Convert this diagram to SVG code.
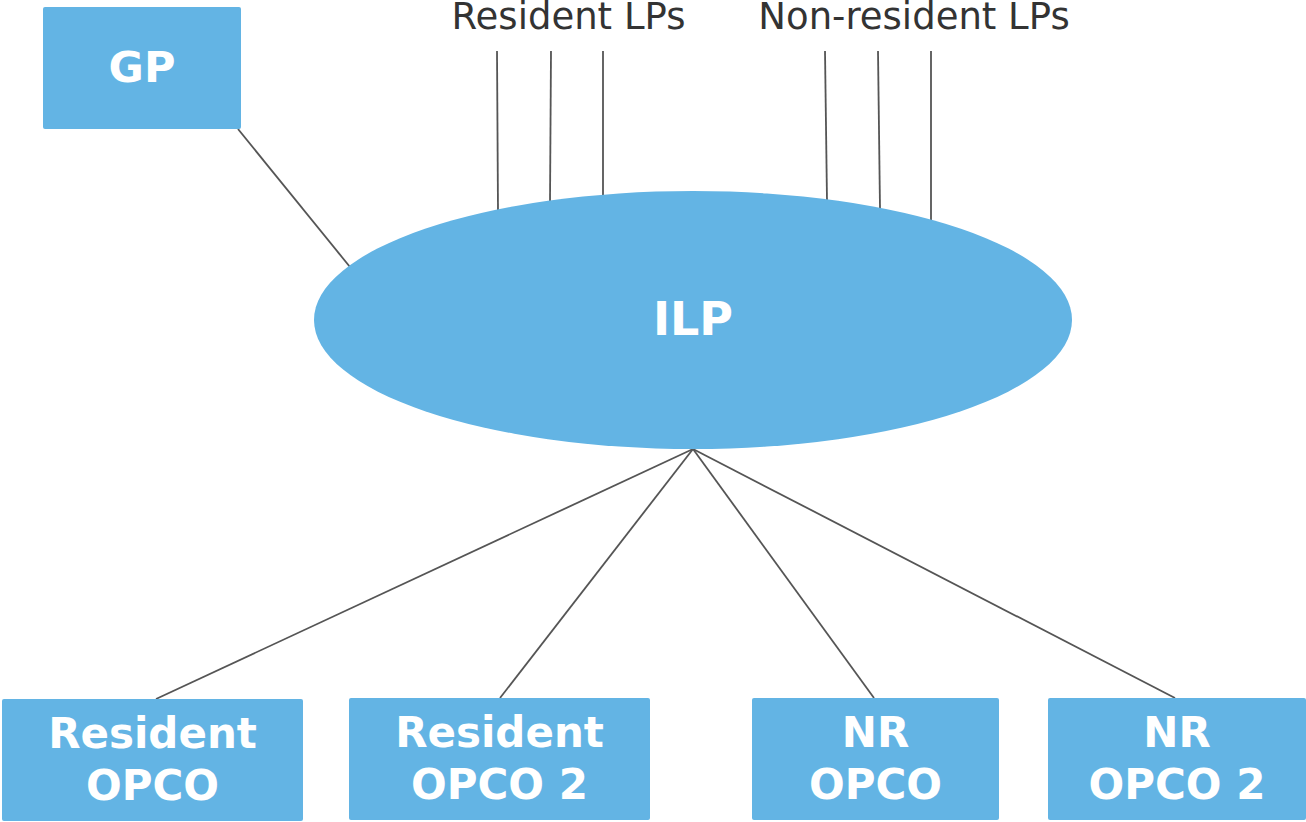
<svg xmlns="http://www.w3.org/2000/svg" width="1306" height="822" viewBox="0 0 1306 822">
<style>
.node{fill:#63b4e4;}
.lbl{font-family:"DejaVu Sans",Verdana,sans-serif;font-weight:bold;font-size:42px;fill:#ffffff;text-anchor:middle;}
.top{font-family:"DejaVu Sans",Verdana,sans-serif;font-size:37px;fill:#333333;text-anchor:middle;}
.conn{stroke:#555555;stroke-width:1.8;fill:none;}
</style>
<rect width="1306" height="822" fill="#ffffff"/>
<g id="connectors">
<line class="conn" x1="238" y1="129" x2="350" y2="267"/>
<line class="conn" x1="497" y1="51" x2="498" y2="212"/>
<line class="conn" x1="551" y1="51" x2="550" y2="202"/>
<line class="conn" x1="603" y1="51" x2="603" y2="197"/>
<line class="conn" x1="825" y1="51" x2="827" y2="201"/>
<line class="conn" x1="878" y1="51" x2="880" y2="209"/>
<line class="conn" x1="931" y1="51" x2="931" y2="221"/>
<line class="conn" x1="693" y1="449" x2="156" y2="699"/>
<line class="conn" x1="693" y1="449" x2="500" y2="698"/>
<line class="conn" x1="693" y1="449" x2="874" y2="698"/>
<line class="conn" x1="693" y1="449" x2="1175" y2="698"/>
</g>
<g id="labels">
<text class="top" x="568.5" y="29">Resident LPs</text>
<text class="top" x="914" y="29">Non-resident LPs</text>
</g>
<g id="gp">
<rect class="node" x="43" y="7" width="198" height="122" rx="2"/>
<text class="lbl" x="142" y="82" style="font-size:43px">GP</text>
</g>
<g id="ilp">
<ellipse class="node" cx="693" cy="320" rx="379" ry="129"/>
<text class="lbl" x="693" y="335" style="font-size:46px">ILP</text>
</g>
<g id="resident-opco">
<rect class="node" x="2" y="699" width="301" height="122" rx="2"/>
<text class="lbl" x="152.5" y="748">Resident</text>
<text class="lbl" x="152.5" y="800">OPCO</text>
</g>
<g id="resident-opco-2">
<rect class="node" x="349" y="698" width="301" height="122" rx="2"/>
<text class="lbl" x="499.5" y="747">Resident</text>
<text class="lbl" x="499.5" y="799">OPCO 2</text>
</g>
<g id="nr-opco">
<rect class="node" x="752" y="698" width="247" height="122" rx="2"/>
<text class="lbl" x="875.5" y="747">NR</text>
<text class="lbl" x="875.5" y="799">OPCO</text>
</g>
<g id="nr-opco-2">
<rect class="node" x="1048" y="698" width="258" height="122" rx="2"/>
<text class="lbl" x="1177" y="747">NR</text>
<text class="lbl" x="1177" y="799">OPCO 2</text>
</g>
</svg>
